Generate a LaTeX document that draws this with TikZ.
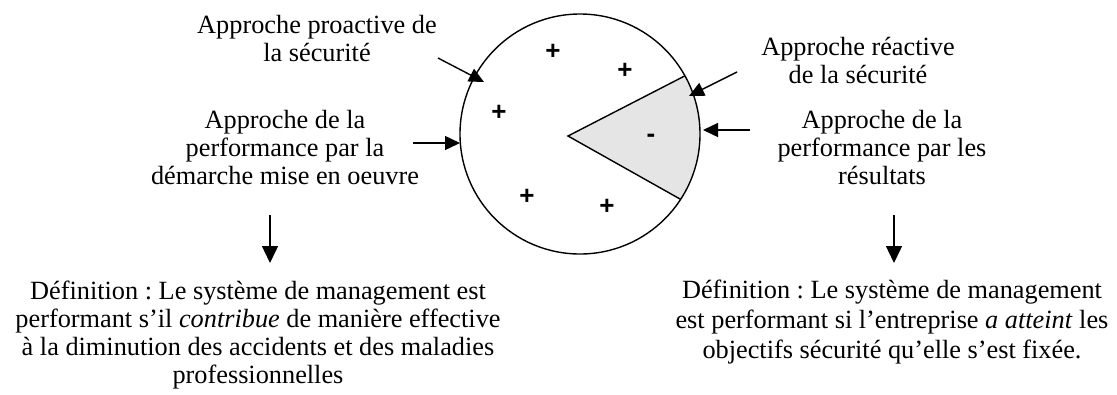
\documentclass[tikz,border=0pt]{standalone}
\usepackage{fontspec}
\setmainfont{Liberation Serif}
\setsansfont{Liberation Sans}
\usetikzlibrary{arrows.meta}
\colorlet{secteurgris}{black!10}
\frenchspacing

\begin{document}
\begin{tikzpicture}[x=1bp,y=-1bp,line width=1.4bp,
		lbl/.style={align=center,inner sep=0pt,font=\fontsize{26.3bp}{28bp}\selectfont},
		signe/.style={inner sep=0pt,font=\fontsize{26bp}{26bp}\selectfont\sffamily\bfseries},
		fleche/.style={-{Triangle[length=15bp,width=14bp]}},
		flechebas/.style={-{Triangle[length=17bp,width=16bp]}}]
		\useasboundingbox (0,0) rectangle (1117,394);
		\coordinate (c) at (580,134);
		\coordinate (apex) at (568,136);
		\coordinate (haut) at ([shift={(-29:120)}]c);
		\coordinate (bas) at ([shift={(33:120)}]c);
		\fill[secteurgris] (apex) -- (haut) arc[start angle=-29,end angle=33,radius=120] -- cycle;
		\draw (c) circle[radius=120];
		\draw (haut) -- (apex) -- (bas);
		\node[signe] (s1) at (553,52) {+};
		\node[signe] (s2) at (625,71) {+};
		\node[signe] (s3) at (499,113) {+};
		\node[signe] (s4) at (527,197) {+};
		\node[signe] (s5) at (607,207) {+};
		\node[signe] (s6) at (651,138) {-};
		\node[lbl] (proactive) at (317,38) {Approche proactive de\\la sécurité};
		\node[lbl] (demarche) at (285,147) {Approche de la\\performance par la\\démarche mise en oeuvre};
		\node[lbl] (reactive) at (858,60) {Approche réactive\\de la sécurité};
		\node[lbl] (resultats) at (882,147) {Approche de la\\performance par les\\résultats};
		\node[lbl] (defG) at (258,335) {Définition : Le système de management est\\performant s’il \textit{contribue} de manière effective\\à la diminution des accidents et des maladies\\professionnelles};
		\node[lbl,font=\fontsize{26.3bp}{30bp}\selectfont] (defD) at (892,322) {Définition : Le système de management\\est performant si l’entreprise \textit{a atteint} les\\objectifs sécurité qu’elle s’est fixée.};
		\coordinate (a1) at (438,58);
		\coordinate (b1) at (484,82);
		\coordinate (a2) at (413,143);
		\coordinate (b2) at (460,143);
		\coordinate (a3) at (737,72);
		\coordinate (b3) at (689,96);
		\coordinate (a4) at (750,130);
		\coordinate (b4) at (703,130);
		\coordinate (a5) at (270,215);
		\coordinate (b5) at (270,263);
		\coordinate (a6) at (894,215);
		\coordinate (b6) at (894,263);
		\foreach \i in {1,...,4}
			\draw[fleche] (a\i) -- (b\i);
		\foreach \i in {5,6}
			\draw[flechebas] (a\i) -- (b\i);
\end{tikzpicture}
\end{document}
